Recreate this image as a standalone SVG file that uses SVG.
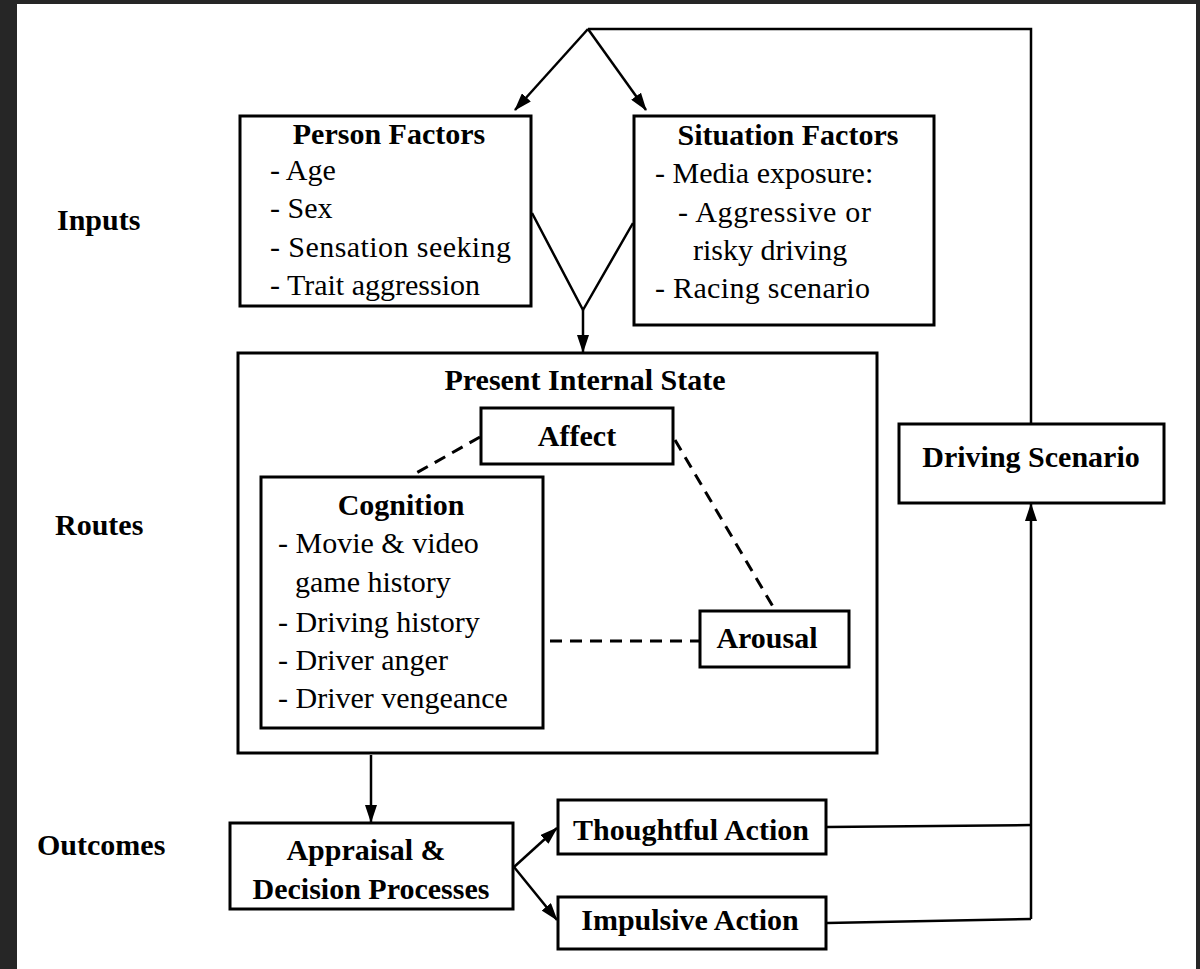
<svg xmlns="http://www.w3.org/2000/svg" width="1200" height="969" viewBox="0 0 1200 969">
<defs>
<marker id="arr" viewBox="0 0 18 12" refX="17" refY="6" markerWidth="18" markerHeight="12" markerUnits="userSpaceOnUse" orient="auto">
<path d="M0,0 L18,6 L0,12 z" fill="#000"/>
</marker>
<style>
.box{fill:#fff;stroke:#000;stroke-width:3}
.t{font-family:"Liberation Serif","Times New Roman",serif;font-size:30px;fill:#000}
.b{font-weight:bold}
.c{text-anchor:middle}
.ln{fill:none;stroke:#000;stroke-width:2.5}
.ar{fill:none;stroke:#000;stroke-width:2.5;marker-end:url(#arr)}
.dash{fill:none;stroke:#000;stroke-width:3;stroke-dasharray:12 8}
</style>
</defs>
<rect x="0" y="0" width="1200" height="969" fill="#262626"/>
<rect x="17" y="4" width="1179" height="965" fill="#fff"/>

<g id="labels">
<text class="t b" x="57" y="230">Inputs</text>
<text class="t b" x="55" y="535">Routes</text>
<text class="t b" x="37" y="855">Outcomes</text>
</g>

<g id="present-internal-state">
<rect class="box" x="238" y="353" width="639" height="400"/>
<text class="t b c" x="585" y="390">Present Internal State</text>
</g>

<g id="person-factors">
<rect class="box" x="240" y="116" width="291" height="190"/>
<text class="t b c" x="389" y="144">Person Factors</text>
<text class="t" x="270" y="180">- Age</text>
<text class="t" x="270" y="218">- Sex</text>
<text class="t" x="270" y="257" textLength="241">- Sensation seeking</text>
<text class="t" x="270" y="295">- Trait aggression</text>
</g>

<g id="situation-factors">
<rect class="box" x="634" y="116" width="300" height="209"/>
<text class="t b c" x="788" y="145">Situation Factors</text>
<text class="t" x="655" y="183">- Media exposure:</text>
<text class="t" x="678" y="222" textLength="193">- Aggressive or</text>
<text class="t" x="693" y="260">risky driving</text>
<text class="t" x="655" y="298" textLength="215">- Racing scenario</text>
</g>

<g id="affect">
<rect class="box" x="481" y="408" width="192" height="56"/>
<text class="t b c" x="577" y="446">Affect</text>
</g>

<g id="cognition">
<rect class="box" x="261" y="477" width="282" height="251"/>
<text class="t b c" x="401" y="515">Cognition</text>
<text class="t" x="278" y="553">- Movie &amp; video</text>
<text class="t" x="295" y="592">game history</text>
<text class="t" x="278" y="632">- Driving history</text>
<text class="t" x="278" y="670">- Driver anger</text>
<text class="t" x="278" y="708">- Driver vengeance</text>
</g>

<g id="arousal">
<rect class="box" x="700" y="611" width="149" height="56"/>
<text class="t b c" x="767" y="648">Arousal</text>
</g>

<g id="driving-scenario">
<rect class="box" x="899" y="424" width="265" height="79"/>
<text class="t b c" x="1031" y="467">Driving Scenario</text>
</g>

<g id="appraisal">
<rect class="box" x="230" y="823" width="283" height="86"/>
<text class="t b c" x="366" y="860">Appraisal &amp;</text>
<text class="t b c" x="371" y="899">Decision Processes</text>
</g>

<g id="thoughtful-action">
<rect class="box" x="558" y="800" width="268" height="54"/>
<text class="t b c" x="691" y="840">Thoughtful Action</text>
</g>

<g id="impulsive-action">
<rect class="box" x="558" y="897" width="268" height="52"/>
<text class="t b c" x="690" y="930">Impulsive Action</text>
</g>

<g id="connectors">
<polyline class="ln" points="1031,423 1031,29 588,29"/>
<line class="ar" x1="588" y1="29" x2="515" y2="110"/>
<line class="ar" x1="588" y1="29" x2="646" y2="110"/>
<polyline class="ln" points="532,213 583,310 633,223"/>
<line class="ar" x1="583" y1="310" x2="583" y2="352"/>
<line class="ar" x1="371" y1="755" x2="371" y2="822"/>
<line class="ar" x1="514" y1="867" x2="557" y2="828"/>
<line class="ar" x1="514" y1="867" x2="557" y2="920"/>
<line class="ln" x1="827" y1="827" x2="1031" y2="825"/>
<line class="ln" x1="827" y1="923" x2="1031" y2="919"/>
<line class="ar" x1="1031" y1="919" x2="1031" y2="504"/>
<line class="dash" x1="480" y1="437" x2="411" y2="476"/>
<line class="dash" x1="675" y1="440" x2="775" y2="610"/>
<line class="dash" x1="550" y1="641" x2="699" y2="641"/>
</g>
</svg>
